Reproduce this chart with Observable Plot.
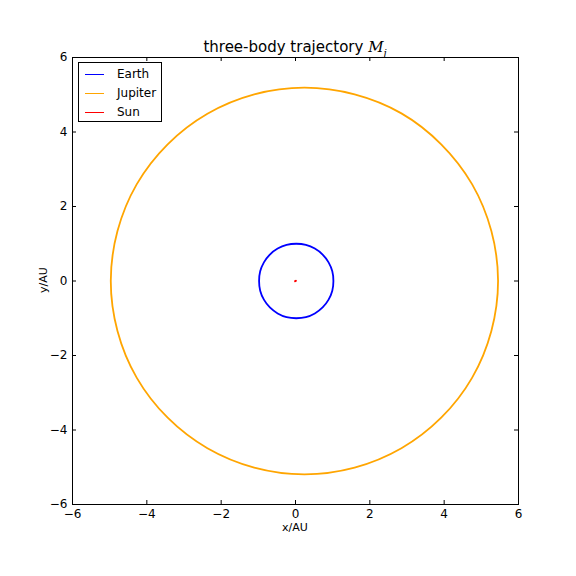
<!DOCTYPE html>
<html>
<head>
<meta charset="utf-8">
<script src="https://cdn.jsdelivr.net/npm/d3@7"></script>
<script src="https://cdn.jsdelivr.net/npm/@observablehq/plot@0.6"></script>
<style>
  body { margin: 0; background: white; }
  #wrap { position: relative; width: 576px; height: 576px; font-family: "DejaVu Sans", sans-serif; color: black; }
  #title { position: absolute; left: 0; width: 590px; top: 38px; text-align: center; font-size: 15px; line-height: 18px; }
  #title .m { font-family: "DejaVu Serif", serif; font-style: italic; }
  #xlabel { position: absolute; left: 72px; width: 446px; top: 522px; text-align: center; font-size: 11px; line-height: 12px; }
  #ylabel { position: absolute; left: 44px; top: 280px; font-size: 11px; line-height: 12px; transform: translate(-50%, -50%) rotate(-90deg); white-space: nowrap; }
  #legend { position: absolute; left: 78px; top: 62px; width: 84px; height: 60px; border: 1px solid black; background: white; box-sizing: border-box; font-size: 12px; }
  #legend .row { position: absolute; left: 6px; height: 18px; display: flex; align-items: center; }
  #legend .sw { width: 19px; height: 0; border-top: 1px solid; margin-right: 13px; }
</style>
</head>
<body>
<div id="wrap">
  <div id="chart"></div>
  <div id="title">three-body trajectory <span class="m">M<sub style="font-size:10px">j</sub></span></div>
  <div id="xlabel">x/AU</div>
  <div id="ylabel">y/AU</div>
  <div id="legend"></div>
</div>
<script>
// Orbit samples (AU)
const earthX = [1.02, 0.99, 0.89, 0.73, 0.52, 0.28, 0.02, -0.24, -0.48, -0.69, -0.85, -0.95, -0.98, -0.95, -0.85, -0.69, -0.48, -0.24, 0.02, 0.28, 0.52, 0.73, 0.89, 0.99];
const earthY = [0, 0.26, 0.5, 0.71, 0.87, 0.97, 1.0, 0.97, 0.87, 0.71, 0.5, 0.26, 0, -0.26, -0.5, -0.71, -0.87, -0.97, -1.0, -0.97, -0.87, -0.71, -0.5, -0.26];
const jupiterX = [5.45, 5.27, 4.75, 3.92, 2.85, 1.59, 0.24, -1.11, -2.37, -3.44, -4.27, -4.79, -4.97, -4.79, -4.27, -3.44, -2.37, -1.11, 0.24, 1.59, 2.85, 3.92, 4.75, 5.27];
const jupiterY = [0, 1.34, 2.6, 3.67, 4.5, 5.01, 5.19, 5.01, 4.49, 3.67, 2.6, 1.34, 0, -1.34, -2.6, -3.67, -4.49, -5.01, -5.19, -5.01, -4.49, -3.67, -2.6, -1.34];
const sunX = [-0.01, 0, 0.01];
const sunY = [-0.005, 0, 0.005];
const bodies = ["Earth", "Jupiter", "Sun"];
const colors = ["#0000ff", "#ffa500", "#ff0000"];
const ticks = [-6, -4, -2, 0, 2, 4, 6];

const toPts = (xs, ys) => xs.map((x, i) => ({x, y: ys[i]}));
const earth = toPts(earthX, earthY);
const jupiter = toPts(jupiterX, jupiterY);
const sun = toPts(sunX, sunY);

const chart = Plot.plot({
  width: 576, height: 576,
  marginLeft: 72, marginRight: 58, marginTop: 57, marginBottom: 72,
  x: {domain: [-6, 6]},
  y: {domain: [-6, 6]},
  style: {fontFamily: "DejaVu Sans", fontSize: "12px", color: "black", background: "white", overflow: "visible"},
  marks: [
    Plot.line(jupiter, {x: "x", y: "y", stroke: colors[1], strokeWidth: 1.8, curve: "catmull-rom-closed"}),
    Plot.line(earth, {x: "x", y: "y", stroke: colors[0], strokeWidth: 1.8, curve: "catmull-rom-closed"}),
    Plot.line(sun, {x: "x", y: "y", stroke: colors[2], strokeWidth: 2}),
    // inward ticks on all four sides (matplotlib classic)
    Plot.tickX(ticks, {x: d => d, insetTop: 443, stroke: "black"}),
    Plot.tickX(ticks, {x: d => d, insetBottom: 443, stroke: "black"}),
    Plot.tickY(ticks, {y: d => d, insetRight: 442, stroke: "black"}),
    Plot.tickY(ticks, {y: d => d, insetLeft: 442, stroke: "black"}),
    Plot.frame({stroke: "black", strokeWidth: 1}),
    Plot.axisX(ticks, {anchor: "bottom", tickSize: 0, tickPadding: 5, label: null, fontSize: 12}),
    Plot.axisY(ticks, {anchor: "left", tickSize: 0, tickPadding: 5, label: null, fontSize: 12})
  ]
});
document.getElementById("chart").appendChild(chart);

const legend = document.getElementById("legend");
bodies.forEach((b, i) => {
  const row = document.createElement("div");
  row.className = "row";
  row.style.top = (2 + i * 19) + "px";
  row.innerHTML = `<span class="sw" style="border-color:${colors[i]}"></span><span>${b}</span>`;
  legend.appendChild(row);
});
</script>
</body>
</html>
